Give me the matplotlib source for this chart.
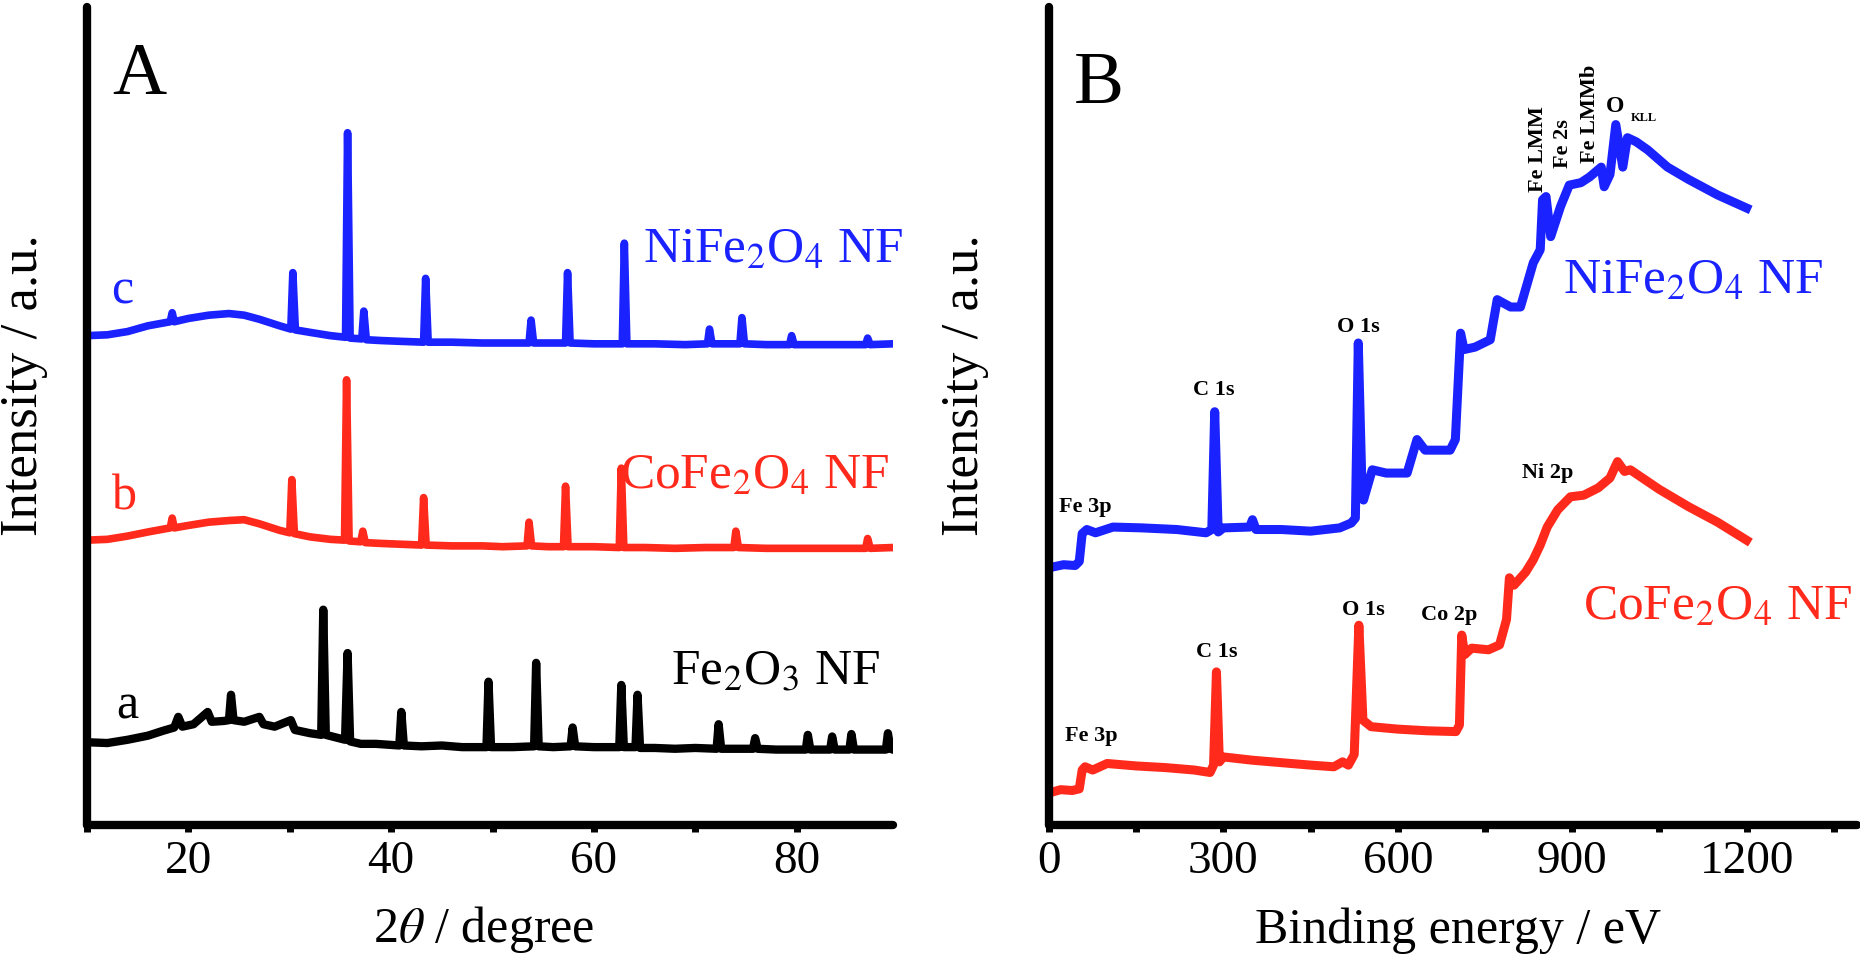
import matplotlib
import matplotlib.pyplot as plt
from matplotlib.ticker import MultipleLocator

matplotlib.use("Agg")

plt.rcParams["font.family"] = ["Liberation Serif", "DejaVu Serif"]
plt.rcParams["mathtext.fontset"] = "stix"

BLUE = "#1a22ff"
RED = "#ff2a1c"
BLACK = "#000000"

# ---- panel A: XRD patterns (2theta in degree, intensity in a.u.) ----
xrd_a_two_theta = [
    10, 12, 14, 16, 17.5, 18.6, 19.0, 19.4, 20.5, 21.9, 22.3, 23.5, 24.0, 24.2, 24.45,
    25.5, 27.0, 27.4, 28.5, 30.1, 30.5, 32.0, 33.1, 33.3, 33.55, 35.45, 35.7, 35.95,
    37.0, 38.5, 40.8, 41.0, 41.25, 43, 45, 47, 49.4, 49.6, 49.85, 52, 54.1, 54.3, 54.55,
    56, 57.7, 57.9, 58.15, 60, 62.5, 62.7, 62.95, 64.1, 64.3, 64.55, 66, 68, 70, 72.1,
    72.3, 72.55, 74, 75.7, 75.9, 76.15, 78, 80.9, 81.1, 81.35, 83.3, 83.5, 83.75, 85.2,
    85.4, 85.65, 87, 88.8, 89.0, 89.25, 89.5,
]
xrd_a_counts = [
    10.1, 10.0, 10.4, 10.9, 11.5, 11.9, 13.2, 12.0, 12.3, 13.8, 12.6, 12.7, 12.8, 15.9, 12.8,
    12.6, 13.2, 12.3, 12.0, 12.8, 11.6, 11.2, 11.0, 26.3, 11.0, 10.4, 21.0, 10.2,
    9.9, 9.9, 9.7, 13.8, 9.7, 9.6, 9.7, 9.5, 9.5, 17.5, 9.5, 9.5, 9.6, 19.8, 9.6,
    9.5, 9.6, 11.9, 9.6, 9.5, 9.5, 17.1, 9.5, 9.5, 15.9, 9.4, 9.4, 9.3, 9.4, 9.3,
    12.3, 9.3, 9.3, 9.3, 10.6, 9.3, 9.2, 9.2, 11.0, 9.2, 9.2, 10.8, 9.2, 9.2,
    11.1, 9.2, 9.2, 9.2, 11.2, 9.3, 9.2,
]

xrd_b_two_theta = [
    10, 12, 14, 16, 18.2, 18.4, 18.6, 20, 22, 24, 25.5, 27, 29, 30.0, 30.2, 30.45, 32, 34,
    35.4, 35.6, 35.85, 37.0, 37.2, 37.45, 39, 41, 43.0, 43.2, 43.45, 46, 49, 51, 53.4,
    53.6, 53.85, 55.5, 57.0, 57.2, 57.45, 60, 62.5, 62.7, 62.95, 65, 68, 71, 73.8, 74.0,
    74.25, 77, 80, 83, 86.8, 87.0, 87.25, 89.5,
]
xrd_b_counts = [
    34.8, 34.9, 35.3, 35.8, 36.3, 37.5, 36.3, 36.6, 37.0, 37.2, 37.3, 36.8, 36.0, 35.7, 42.2,
    35.6, 35.2, 34.9, 34.8, 54.4, 34.7, 34.6, 35.9, 34.5, 34.4, 34.3, 34.2, 40.0, 34.2, 34.1,
    34.1, 34.0, 34.1, 37.0, 34.1, 34.0, 34.0, 41.4, 34.0, 34.0, 33.9, 43.6, 33.9, 33.9, 33.8,
    33.9, 33.9, 35.9, 33.9, 33.8, 33.8, 33.8, 33.8, 35.0, 33.8, 33.9,
]

xrd_c_two_theta = [
    10, 12, 14, 16, 18.2, 18.4, 18.6, 20, 22, 24, 25.5, 27, 29, 30.1, 30.3, 30.55, 32, 34,
    35.5, 35.7, 35.95, 37.1, 37.3, 37.55, 39, 41, 43.2, 43.4, 43.65, 46, 49, 51.5, 53.6,
    53.8, 54.05, 56, 57.2, 57.4, 57.65, 60, 62.8, 63.0, 63.25, 66, 69, 71.2, 71.4, 71.65,
    74.4, 74.6, 74.85, 77, 79.3, 79.5, 79.75, 83, 86.8, 87.0, 87.25, 89.5,
]
xrd_c_counts = [
    59.8, 59.9, 60.3, 61.0, 61.5, 62.6, 61.5, 61.9, 62.3, 62.5, 62.3, 61.8, 61.0, 60.6, 67.5,
    60.5, 60.2, 59.8, 59.6, 84.6, 59.5, 59.4, 62.8, 59.3, 59.2, 59.1, 59.0, 66.8, 59.0, 59.0,
    58.9, 58.9, 58.9, 61.7, 58.9, 58.9, 58.9, 67.5, 58.9, 58.8, 58.8, 71.1, 58.8, 58.8, 58.7,
    58.8, 60.6, 58.8, 58.8, 62.0, 58.8, 58.7, 58.7, 59.8, 58.7, 58.7, 58.7, 59.5, 58.7, 58.8,
]

# ---- panel B: XPS survey spectra (binding energy in eV, intensity in a.u.) ----
xps_ni_energy = [
    5, 25, 45, 52, 57, 65, 80, 110, 160, 220, 270, 280, 285, 291, 300, 345, 350, 356, 400,
    450, 500, 520, 527, 532, 538, 541, 556, 580, 616, 633, 647, 690, 699, 708, 714, 733,
    759, 771, 794, 811, 833, 845, 849, 855, 863, 880, 895, 915, 930, 950, 955, 965, 975,
    987, 995, 1010, 1030, 1064, 1100, 1150, 1200,
]
xps_ni_counts = [
    31.5, 31.8, 31.7, 32.2, 35.6, 36.1, 35.7, 36.4, 36.3, 36.1, 35.7, 36.1, 50.5, 35.8, 36.3,
    36.4, 37.3, 36.1, 36.1, 35.9, 36.3, 36.9, 37.5, 58.9, 42.2, 39.7, 43.4, 43.0, 43.0, 47.1,
    45.8, 45.8, 47.1, 60.1, 58.1, 58.4, 59.3, 64.2, 63.3, 63.3, 68.7, 70.3, 76.4, 76.8, 71.9,
    75.6, 78.2, 78.5, 79.2, 80.4, 78.0, 79.5, 85.6, 80.4, 84.0, 83.5, 82.5, 80.4, 78.9, 77.0,
    75.4,
]

xps_co_energy = [
    5, 20, 40, 52, 57, 62, 75, 100, 150, 200, 250, 277, 283, 288, 293, 300, 350, 400, 450,
    490, 505, 515, 525, 533, 540, 554, 600, 650, 700, 706, 710, 715, 727, 756, 775, 787,
    792, 800, 820, 833, 845, 857, 875, 897, 920, 945, 965, 978, 990, 1000, 1050, 1100,
    1150, 1200,
]
xps_co_counts = [
    4.0, 4.3, 4.2, 4.4, 6.7, 7.1, 6.7, 7.5, 7.2, 7.0, 6.7, 6.4, 7.3, 18.7, 7.7, 8.3, 7.9, 7.6,
    7.3, 7.1, 7.7, 7.3, 8.6, 24.4, 12.8, 12.0, 11.7, 11.5, 11.4, 12.2, 23.2, 20.8, 21.6,
    21.4, 22.0, 25.1, 30.2, 29.3, 30.9, 32.4, 34.2, 36.4, 38.5, 40.1, 40.3, 41.2, 42.4, 44.4,
    43.2, 43.4, 41.0, 38.9, 37.0, 34.8,
]

# peak annotations: (label, energy, intensity)
ni_peak_labels = [("Fe 3p", 62, 38.8), ("C 1s", 283, 53.1), ("O 1s", 532, 60.8)]
co_peak_labels = [
    ("Fe 3p", 72, 10.9), ("C 1s", 289, 21.1), ("O 1s", 541, 26.3),
    ("Co 2p", 689, 25.6), ("Ni 2p", 857, 43.0),
]
ni_auger_labels = [("Fe LMM", 842, 77.3), ("Fe 2s", 885, 80.3), ("Fe LMMb", 930, 80.9)]


def style_axis(ax):
    for side in ("top", "right"):
        ax.spines[side].set_visible(False)
    for side in ("left", "bottom"):
        ax.spines[side].set_linewidth(6)
        ax.spines[side].set_capstyle("round")
    ax.set_yticks([])
    ax.tick_params(axis="x", which="both", direction="out", length=5, width=5,
                   pad=6, labelsize=34, color=BLACK)
    ax.set_ylim(0, 100)


fig = plt.figure(figsize=(18.6, 9.67), dpi=100)
fig.patch.set_facecolor("white")

# ---------------- panel A ----------------
ax_a = fig.add_axes([0.0468, 0.147, 0.4333, 0.846])
style_axis(ax_a)
ax_a.plot(xrd_a_two_theta, xrd_a_counts, color=BLACK, lw=6, solid_joinstyle="round")
ax_a.plot(xrd_b_two_theta, xrd_b_counts, color=RED, lw=5.5, solid_joinstyle="round")
ax_a.plot(xrd_c_two_theta, xrd_c_counts, color=BLUE, lw=5.5, solid_joinstyle="round")
ax_a.set_xlim(10, 89.5)
ax_a.xaxis.set_major_locator(MultipleLocator(20))
ax_a.xaxis.set_minor_locator(MultipleLocator(10))

ax_a.text(13.5, 65.2, "c", color=BLUE, fontsize=36, ha="center", va="center")
ax_a.text(13.7, 40.1, "b", color=RED, fontsize=36, ha="center", va="center")
ax_a.text(14.0, 14.5, "a", color=BLACK, fontsize=36, ha="center", va="center")
ax_a.text(64.8, 70.3, r"NiFe$_2$O$_4$ NF", color=BLUE, fontsize=37, ha="left", va="center")
ax_a.text(62.6, 42.7, r"CoFe$_2$O$_4$ NF", color=RED, fontsize=37, ha="left", va="center")
ax_a.text(67.6, 18.7, r"Fe$_2$O$_3$ NF", color=BLACK, fontsize=37, ha="left", va="center")

fig.text(0.0747, 0.921, "A", fontsize=54, ha="center", va="center")
fig.text(0.013, 0.602, "Intensity / a.u.", fontsize=38, rotation=90, ha="center", va="center")
fig.text(0.26, 0.039, r"2$\theta$ / degree", fontsize=36, ha="center", va="center")

# ---------------- panel B ----------------
ax_b = fig.add_axes([0.564, 0.147, 0.4344, 0.846])
style_axis(ax_b)
ax_b.plot(xps_ni_energy, xps_ni_counts, color=BLUE, lw=6.5, solid_joinstyle="round")
ax_b.plot(xps_co_energy, xps_co_counts, color=RED, lw=6.5, solid_joinstyle="round")
ax_b.set_xlim(0, 1390)
ax_b.xaxis.set_major_locator(MultipleLocator(300))
ax_b.xaxis.set_minor_locator(MultipleLocator(150))

for label, energy, level in ni_peak_labels + co_peak_labels:
    ax_b.text(energy, level, label, fontsize=16, fontweight="bold", ha="center", va="center")
for label, energy, level in ni_auger_labels:
    ax_b.text(energy, level, label, fontsize=16, fontweight="bold", rotation=90,
              ha="center", va="bottom")
ax_b.text(973, 87.8, "O", fontsize=17, fontweight="bold", ha="center", va="center")
ax_b.text(1023, 86.4, "KLL", fontsize=9, fontweight="bold", ha="center", va="center")

ax_b.text(885, 66.5, r"NiFe$_2$O$_4$ NF", color=BLUE, fontsize=37, ha="left", va="center")
ax_b.text(919, 26.7, r"CoFe$_2$O$_4$ NF", color=RED, fontsize=37, ha="left", va="center")

fig.text(0.591, 0.912, "B", fontsize=54, ha="center", va="center")
fig.text(0.519, 0.602, "Intensity / a.u.", fontsize=38, rotation=90, ha="center", va="center")
fig.text(0.784, 0.038, "Binding energy / eV", fontsize=36, ha="center", va="center")

fig.savefig("out.png", dpi=100, facecolor="white")
plt.close(fig)
